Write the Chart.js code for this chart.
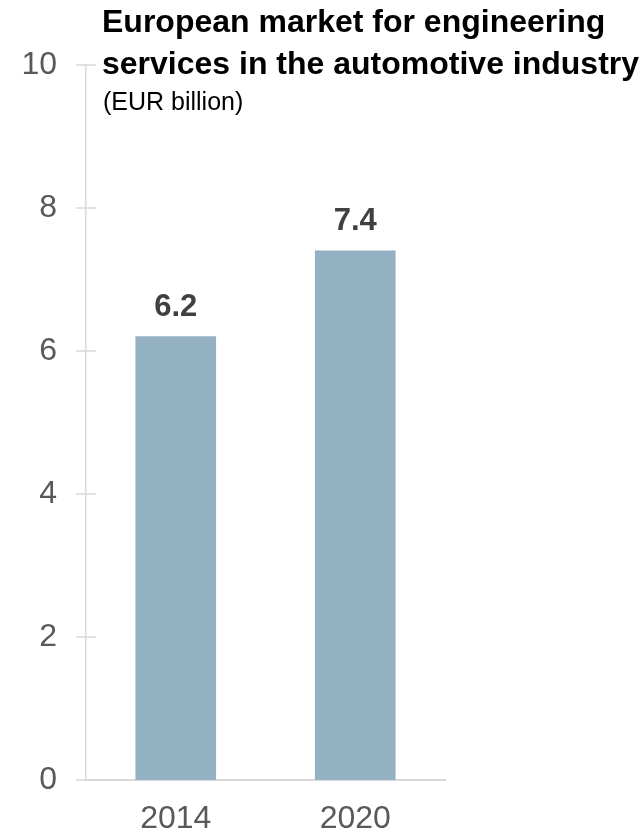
<!DOCTYPE html>
<html>
<head>
<meta charset="utf-8">
<script src="https://cdn.jsdelivr.net/npm/chart.js@4.4.0/dist/chart.umd.min.js"></script>
<style>
    html, body { margin: 0; padding: 0; background: #ffffff; }
    #wrap { position: relative; width: 644px; height: 831px; }
    #title {
        position: absolute; left: 102px; top: 0px;
        font-family: 'Liberation Sans', Arial, sans-serif;
        font-weight: bold; font-size: 32px; line-height: 42px; color: #000000;
        white-space: nowrap;
    }
    #subtitle {
        position: absolute; left: 103px; top: 86px;
        font-family: 'Liberation Sans', Arial, sans-serif;
        font-size: 25px; line-height: 30px; color: #000000;
    }
</style>
</head>
<body>
<div id="wrap">
    <canvas id="chart" width="644" height="831"></canvas>
    <div id="title">European market for engineering<br>services in the automotive industry</div>
    <div id="subtitle">(EUR billion)</div>
</div>
<script>
// Data
const categories = ['2014', '2020'];
const values = [6.2, 7.4];
const yTicks = [0, 2, 4, 6, 8, 10];

const axisColor = '#d9d9d9';
const barColor = '#93b1c2';

// Short tick marks crossing the y axis line
const crossTicks = {
    id: 'crossTicks',
    afterDraw(chart) {
        const ctx = chart.ctx;
        const y = chart.scales.y;
        const x0 = chart.chartArea.left;
        ctx.save();
        ctx.strokeStyle = axisColor;
        ctx.lineWidth = 1.5;
        yTicks.forEach(v => {
            const py = y.getPixelForValue(v);
            ctx.beginPath();
            ctx.moveTo(x0 - 10, py);
            ctx.lineTo(x0 + 10, py);
            ctx.stroke();
        });
        ctx.restore();
    }
};

// Value labels above bars
const valueLabels = {
    id: 'valueLabels',
    afterDatasetsDraw(chart) {
        const ctx = chart.ctx;
        const meta = chart.getDatasetMeta(0);
        ctx.save();
        ctx.fillStyle = '#404040';
        ctx.font = 'bold 31px "Liberation Sans", Arial, sans-serif';
        ctx.textAlign = 'center';
        ctx.textBaseline = 'alphabetic';
        meta.data.forEach((bar, i) => {
            ctx.fillText(values[i].toFixed(1), bar.x, bar.y - 21);
        });
        ctx.restore();
    }
};

new Chart(document.getElementById('chart'), {
    type: 'bar',
    data: {
        labels: categories,
        datasets: [{
            data: values,
            backgroundColor: barColor,
            borderWidth: 0,
            barThickness: 80
        }]
    },
    options: {
        responsive: false,
        animation: false,
        layout: { padding: { top: 65, right: 199, bottom: 0, left: 0 } },
        plugins: {
            legend: { display: false },
            tooltip: { enabled: false }
        },
        scales: {
            x: {
                grid: { display: false },
                border: { display: true, color: axisColor, width: 2 },
                ticks: {
                    color: '#595959',
                    padding: 12,
                    font: { family: '"Liberation Sans", Arial, sans-serif', size: 32 }
                },
                afterFit(scale) { scale.height = 51; }
            },
            y: {
                min: 0,
                max: 10,
                afterBuildTicks(scale) { scale.ticks = yTicks.map(v => ({ value: v })); },
                grid: { display: false },
                border: { display: true, color: axisColor, width: 1.5 },
                ticks: {
                    color: '#595959',
                    padding: 21,
                    font: { family: '"Liberation Sans", Arial, sans-serif', size: 32 }
                },
                afterFit(scale) { scale.width = 86; }
            }
        }
    },
    plugins: [crossTicks, valueLabels]
});
</script>
</body>
</html>
